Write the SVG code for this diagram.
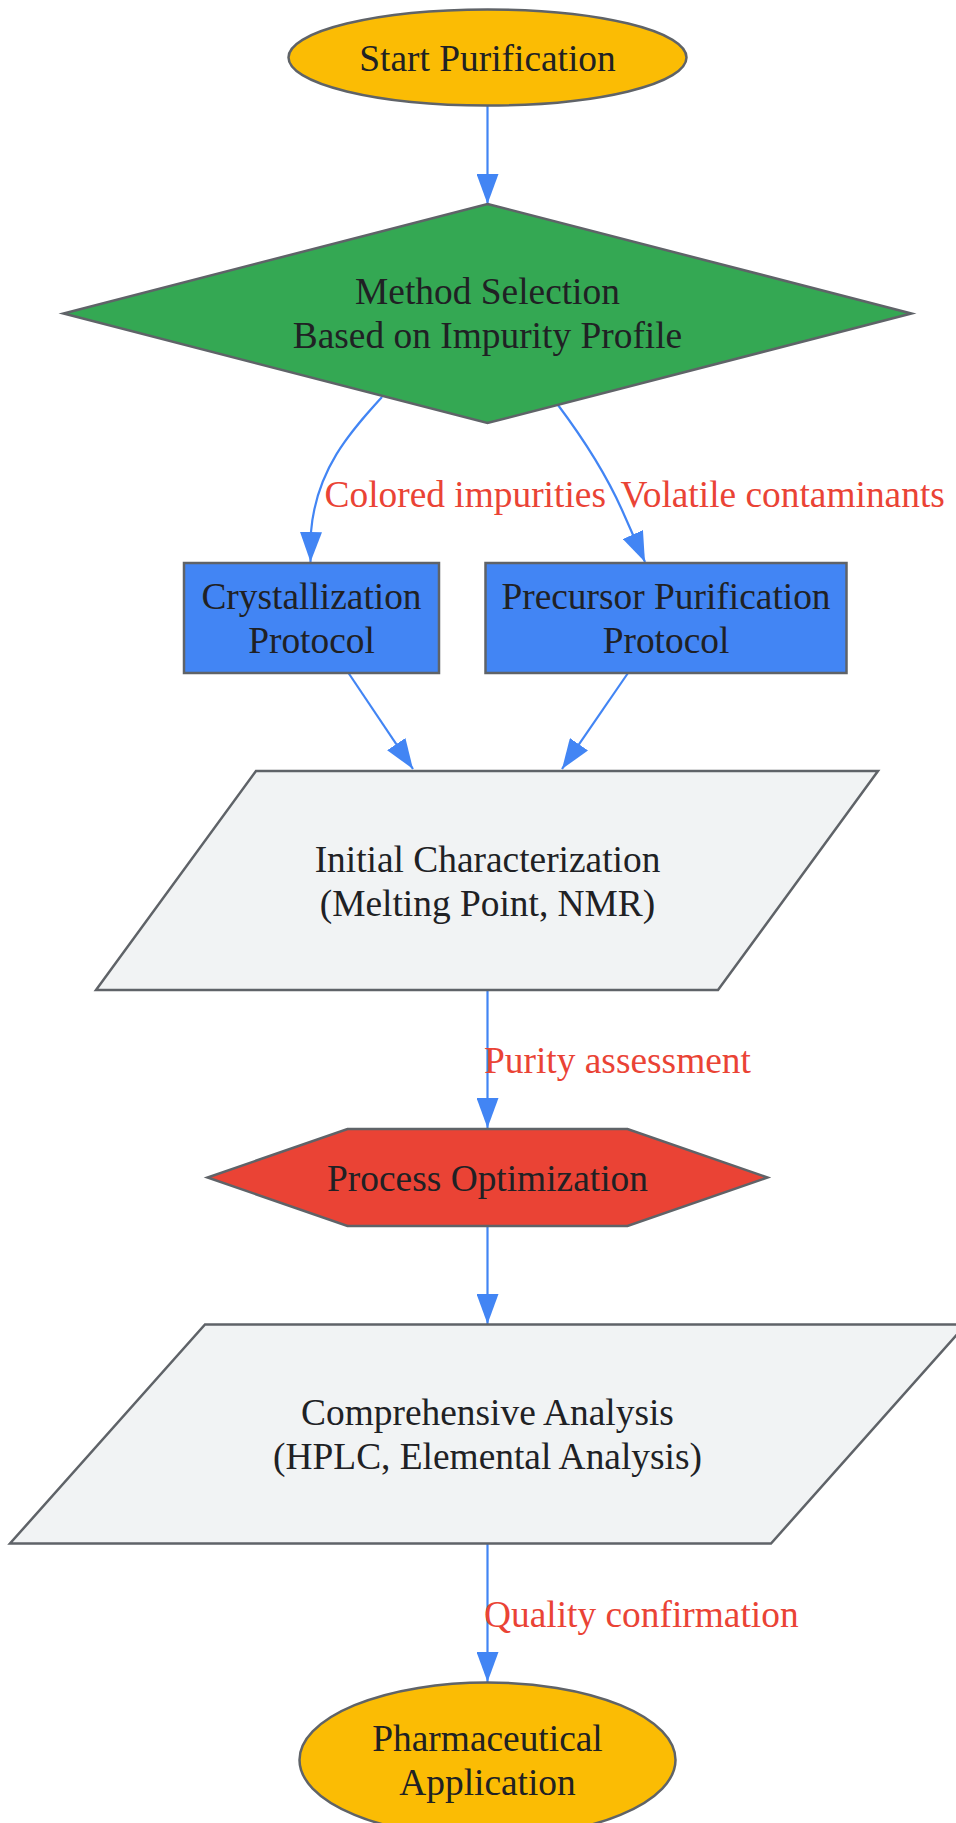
<svg xmlns="http://www.w3.org/2000/svg" width="956" height="1823" viewBox="0 0 956 1823">
<defs>
<style>
.node{stroke:#5f6368;stroke-width:2.5}
.t{font-family:"Liberation Serif","Times New Roman",serif;font-size:37.4px;fill:#202124;text-anchor:middle}
.lbl{font-family:"Liberation Serif","Times New Roman",serif;font-size:37.4px;fill:#EA4335}
.edge{fill:none;stroke:#4285F4;stroke-width:2.2}
</style>
<marker id="arrow" viewBox="0 0 30 22" refX="30" refY="11" markerWidth="30" markerHeight="22" markerUnits="userSpaceOnUse" orient="auto">
<path d="M0,0 L30,11 L0,22 z" fill="#4285F4"/>
</marker>
</defs>
<rect width="956" height="1823" fill="#ffffff"/>
<g id="connectors">
<path class="edge" d="M487.5,106 L487.5,204" marker-end="url(#arrow)"/>
<path class="edge" d="M382,397 C350,432 316,470 311,532 L310.5,562" marker-end="url(#arrow)"/>
<path class="edge" d="M558,405 C582,437 605,472 622,510 L645,562" marker-end="url(#arrow)"/>
<path class="edge" d="M348.5,673 L413,769" marker-end="url(#arrow)"/>
<path class="edge" d="M628,673 L562,769" marker-end="url(#arrow)"/>
<path class="edge" d="M487.5,990 L487.5,1128" marker-end="url(#arrow)"/>
<path class="edge" d="M487.5,1226 L487.5,1324" marker-end="url(#arrow)"/>
<path class="edge" d="M487.5,1543 L487.5,1682" marker-end="url(#arrow)"/>
<text class="lbl" x="324.5" y="506.5">Colored impurities</text>
<text class="lbl" x="620.5" y="506.5">Volatile contaminants</text>
<text class="lbl" x="484" y="1073">Purity assessment</text>
<text class="lbl" x="484" y="1626.5">Quality confirmation</text>
</g>
<g id="start">
<ellipse class="node" cx="487.5" cy="57.5" rx="199" ry="48" fill="#FBBC04"/>
<text class="t" x="487.5" y="71">Start Purification</text>
</g>
<g id="method">
<polygon class="node" points="487.5,204 911.5,313.5 487.5,423 63.5,313.5" fill="#34A853"/>
<text class="t" x="487.5" y="304">Method Selection</text>
<text class="t" x="487.5" y="348">Based on Impurity Profile</text>
</g>
<g id="crystallization">
<rect class="node" x="184" y="563" width="255" height="110" fill="#4285F4"/>
<text class="t" x="311.5" y="609">Crystallization</text>
<text class="t" x="311.5" y="653">Protocol</text>
</g>
<g id="precursor">
<rect class="node" x="485.5" y="563" width="361" height="110" fill="#4285F4"/>
<text class="t" x="666" y="609">Precursor Purification</text>
<text class="t" x="666" y="653">Protocol</text>
</g>
<g id="initial">
<polygon class="node" points="256,771 878,771 718,990 96,990" fill="#F1F3F4"/>
<text class="t" x="487.5" y="872">Initial Characterization</text>
<text class="t" x="487.5" y="915.5">(Melting Point, NMR)</text>
</g>
<g id="optimization">
<polygon class="node" points="347.5,1129 627.5,1129 767.5,1177.5 627.5,1226 347.5,1226 207.5,1177.5" fill="#EA4335"/>
<text class="t" x="487.5" y="1190.5">Process Optimization</text>
</g>
<g id="comprehensive">
<polygon class="node" points="205,1324.5 966,1324.5 771,1543.5 10,1543.5" fill="#F1F3F4"/>
<text class="t" x="487.5" y="1425">Comprehensive Analysis</text>
<text class="t" x="487.5" y="1468.5">(HPLC, Elemental Analysis)</text>
</g>
<g id="pharma">
<ellipse class="node" cx="487.5" cy="1760" rx="188" ry="77.5" fill="#FBBC04"/>
<text class="t" x="487.5" y="1751">Pharmaceutical</text>
<text class="t" x="487.5" y="1795">Application</text>
</g>
</svg>
